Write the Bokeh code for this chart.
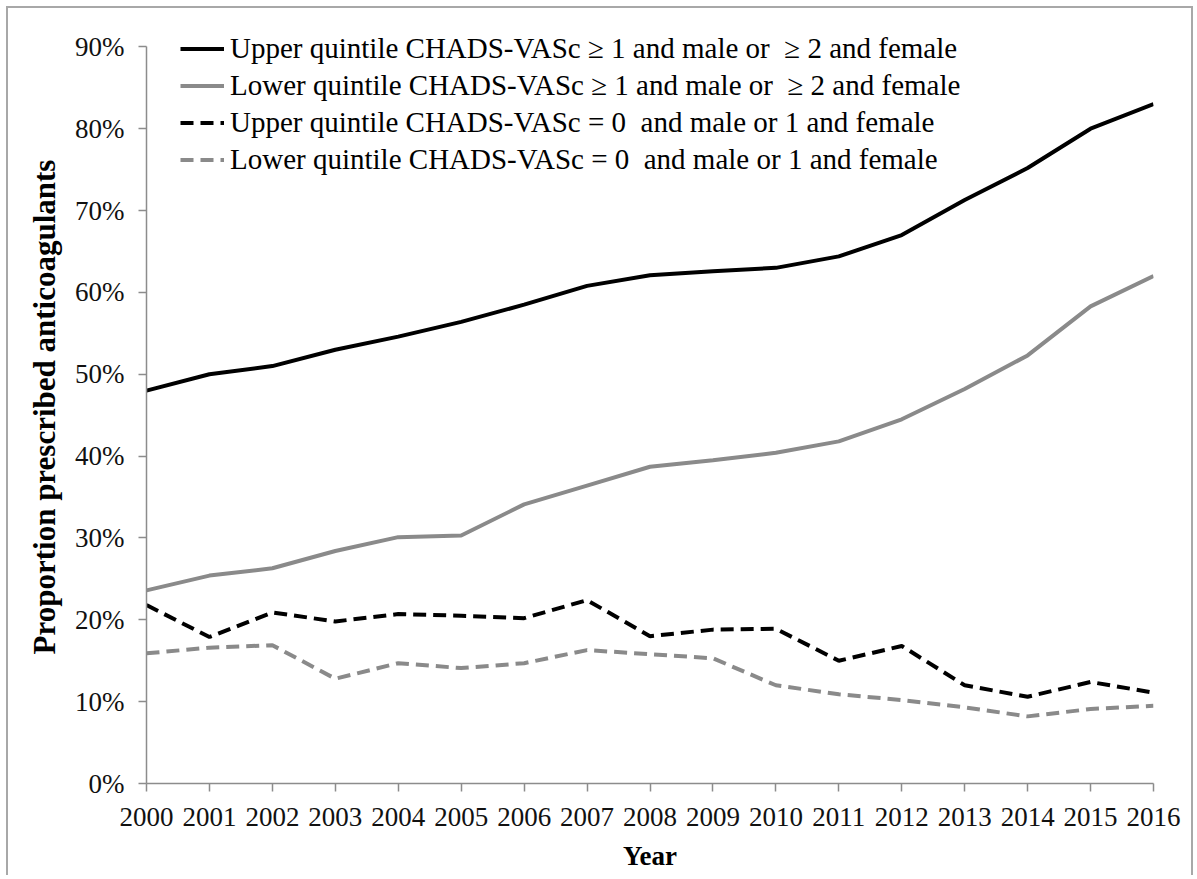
from bokeh.plotting import figure
from bokeh.models import FixedTicker, NumeralTickFormatter, Legend, LegendItem, Range1d
from bokeh.embed import file_html
from bokeh.resources import INLINE

years = list(range(2000, 2017))
upper_high = [48.0, 50.0, 51.0, 53.0, 54.6, 56.4, 58.5, 60.8, 62.1, 62.6, 63.0, 64.4, 67.0, 71.3, 75.2, 80.0, 83.0]
lower_high = [23.6, 25.4, 26.3, 28.4, 30.1, 30.3, 34.1, 36.4, 38.7, 39.5, 40.4, 41.8, 44.5, 48.2, 52.3, 58.3, 62.0]
upper_low = [21.8, 17.9, 20.9, 19.8, 20.7, 20.5, 20.2, 22.4, 18.0, 18.8, 18.9, 15.0, 16.8, 12.0, 10.6, 12.4, 11.1]
lower_low = [15.9, 16.6, 16.9, 12.8, 14.7, 14.1, 14.7, 16.3, 15.8, 15.3, 12.0, 10.9, 10.2, 9.3, 8.2, 9.1, 9.5]
y_ticks = [0, 10, 20, 30, 40, 50, 60, 70, 80, 90]

labels = [
    "Upper quintile CHADS-VASc \u2265 1 and male or  \u2265 2 and female",
    "Lower quintile CHADS-VASc \u2265 1 and male or  \u2265 2 and female",
    "Upper quintile CHADS-VASc = 0  and male or 1 and female",
    "Lower quintile CHADS-VASc = 0  and male or 1 and female",
]
y_title = "Proportion prescribed anticoagulants"

BLACK = "#000000"
GRAY = "#8a8a8a"
AXIS = "#8c8c8c"
FONT = "Liberation Serif"

def frac(v):
    return [x / 100.0 for x in v]

p = figure(width=1187, height=869, output_backend="svg", toolbar_location=None,
           x_range=Range1d(2000, 2016), y_range=Range1d(0, 0.92),
           min_border_left=138, min_border_right=42, min_border_top=22, min_border_bottom=94)
p.styles = {"border-left": "2px solid #a8a8a8", "border-top": "2px solid #a8a8a8",
            "border-right": "2px solid #a8a8a8", "margin-left": "6px", "margin-top": "6px"}
p.outline_line_color = None
p.xgrid.visible = False
p.ygrid.visible = False

r1 = p.line(years, frac(upper_high), line_color=BLACK, line_width=4)
r2 = p.line(years, frac(lower_high), line_color=GRAY, line_width=4)
r3 = p.line(years, frac(upper_low), line_color=BLACK, line_width=4, line_dash="13 7")
r4 = p.line(years, frac(lower_low), line_color=GRAY, line_width=4, line_dash="13 7")

p.xaxis.ticker = FixedTicker(ticks=years)
p.yaxis.ticker = FixedTicker(ticks=[t / 100.0 for t in y_ticks])
p.yaxis.formatter = NumeralTickFormatter(format="0%")
p.yaxis.bounds = (0, 0.9)

for ax in (p.xaxis[0], p.yaxis[0]):
    ax.axis_line_color = AXIS
    ax.axis_line_width = 1.5
    ax.major_tick_line_color = AXIS
    ax.major_tick_line_width = 1.5
    ax.major_tick_out = 8
    ax.major_tick_in = 0
    ax.minor_tick_line_color = None
    ax.major_label_text_font = FONT
    ax.major_label_text_font_size = "27px"
    ax.major_label_text_color = "#111111"
    ax.axis_label_text_font = FONT
    ax.axis_label_text_font_style = "bold"
    ax.axis_label_text_color = "#000000"

p.xaxis.axis_label = "Year"
p.xaxis.axis_label_text_font_size = "27px"
p.xaxis.major_label_standoff = 16
p.xaxis.axis_label_standoff = 12
p.yaxis.axis_label = y_title
p.yaxis.axis_label_text_font_size = "31px"
p.yaxis.major_label_standoff = 14
p.yaxis.axis_label_standoff = 10

legend = Legend(items=[LegendItem(label=l, renderers=[r]) for l, r in zip(labels, [r1, r2, r3, r4])],
                location=(34, 605), orientation="vertical")
legend.label_text_font = FONT
legend.label_text_font_size = "29px"
legend.label_text_color = "#000000"
legend.glyph_width = 44
legend.glyph_height = 37
legend.label_height = 37
legend.spacing = 0
legend.padding = 0
legend.margin = 0
legend.label_standoff = 6
legend.border_line_color = None
legend.background_fill_alpha = 0
p.add_layout(legend, "center")

open("out.html", "w").write(file_html(p, INLINE))
